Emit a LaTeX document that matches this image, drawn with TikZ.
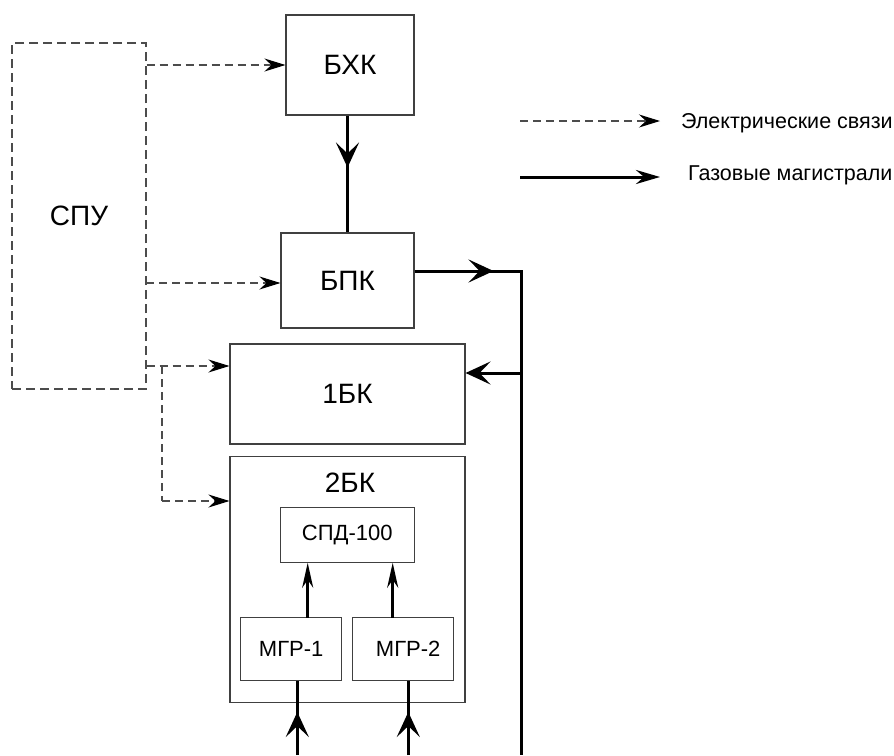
\documentclass[tikz,border=0pt]{standalone}
\usepackage{fontspec}
\setmainfont{Liberation Sans}
\usetikzlibrary{arrows.meta,decorations.markings,calc}
\begin{document}
\begin{tikzpicture}[x=1pt,y=-1pt,
  box/.style={draw=black!75,line width=1.1pt,inner sep=0pt,font=\fontsize{28}{32}\selectfont},
  sbox/.style={draw=black!75,line width=1.1pt,inner sep=0pt,font=\fontsize{22}{26}\selectfont},
  dbox/.style={draw=black!70,line width=1.1pt,dash pattern=on 9pt off 5pt,inner sep=0pt,font=\fontsize{28}{32}\selectfont},
  gas/.style={line width=3pt},
  eline/.style={draw=black!70,line width=1.1pt,dash pattern=on 8pt off 5pt},
  elec/.style={eline,-{Stealth[length=21pt,width=13pt,inset=7pt,black]}},
  gastip/.tip={Stealth[length=25pt,width=23pt,inset=11pt]},
  narrowtip/.tip={Stealth[length=25pt,width=11pt,inset=8pt]},
  midtip/.style={postaction={decorate,decoration={markings,mark=at position #1 with {\arrow{gastip}}}}},
  legtext/.style={anchor=base west,inner sep=0pt,font=\fontsize{21.5}{25}\selectfont}
]
\useasboundingbox (0,0) rectangle (894,755);

% blocks
\node[dbox,minimum width=134pt,minimum height=346pt] (spu) at (79,216) {СПУ};
\node[box,minimum width=128pt,minimum height=100pt] (bhk) at (350,65) {БХК};
\node[box,minimum width=133pt,minimum height=95pt] (bpk) at (347.5,280.5) {БПК};
\node[box,minimum width=235pt,minimum height=100pt] (bk1) at (347.5,394) {1БК};
\node[box,minimum width=235pt,minimum height=246pt] (bk2) at (347.5,579.5) {};
\node[inner sep=0pt,font=\fontsize{28}{32}\selectfont] (bk2lbl) at (350,483) {2БК};
\node[sbox,minimum width=134pt,minimum height=55pt] (spd) at (347.3,534.7) {СПД-100};
\node[sbox,minimum width=101pt,minimum height=62.6pt] (mgr1) at (291.2,649) {МГР-1};
\node[sbox,minimum width=101pt,minimum height=62.6pt,text width=101pt,align=center] (mgr2) at (403.2,649) {\hspace*{10pt}МГР-2};

% coordinates
\coordinate (g1) at (521,271);
\coordinate (g2) at (521,373);
\coordinate (gend) at (521,755);
\coordinate (in1) at (297.3,755);
\coordinate (in2) at (408.3,755);
\coordinate (d1) at (162,366);
\coordinate (d2) at (162,501);
\coordinate (e2) at (146,283);
\coordinate (m1top) at (307.7,617.7);
\coordinate (m2top) at (392.7,617.7);

% gas lines
\draw[gas,midtip=52pt] (bpk.north |- bhk.south) -- (bpk.north);
\draw[gas] (bpk.east |- g1) -- (g1) -- (gend);
\draw[gas,midtip=79pt] (bpk.east |- g1) -- (g1);
\draw[gas,-{gastip}] (g2) -- (bk1.east |- g2);
\draw[gas,-{narrowtip}] (m1top) -- (m1top |- spd.south);
\draw[gas,-{narrowtip}] (m2top) -- (m2top |- spd.south);
\draw[gas,midtip=43pt] (in1) -- (in1 |- mgr1.south);
\draw[gas,midtip=43pt] (in2) -- (in2 |- mgr2.south);

% electric lines
\draw[elec] (spu.east |- bhk.west) -- (bhk.west);
\draw[elec] (e2) -- (bpk.west |- e2);
\draw[elec] (spu.east |- d1) -- (bk1.west |- d1);
\draw[eline] (d1) -- (d2);
\draw[elec] (d2) -- (bk2.west |- d2);

% legend
\coordinate (l1s) at (520,121);
\coordinate (l1e) at (660,121);
\coordinate (l2s) at (520,177);
\coordinate (l2e) at (660,177);
\draw[elec] (l1s) -- (l1e);
\draw[gas,-{Stealth[length=24pt,width=14pt,inset=8pt]}] (l2s) -- (l2e);
\node[legtext] (lt1) at (681,128.3) {Электрические связи};
\node[legtext] (lt2) at (688,180) {Газовые магистрали};
\end{tikzpicture}
\end{document}
